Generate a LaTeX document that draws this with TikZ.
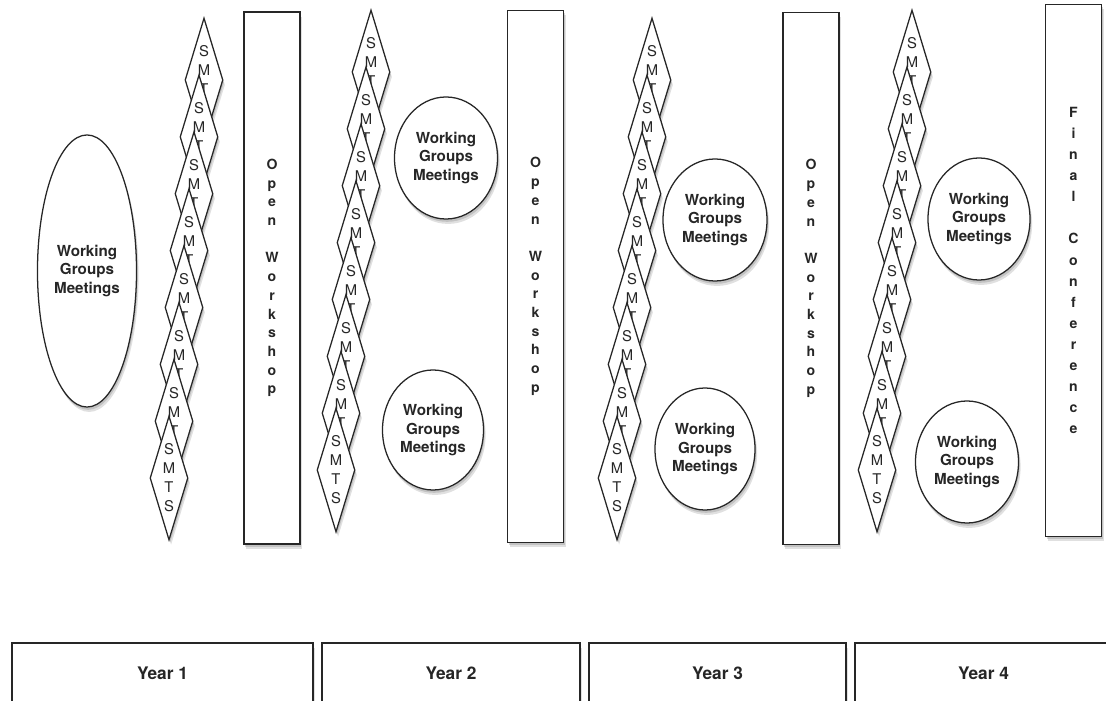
\documentclass[tikz,border=0pt]{standalone}
\usepackage{fontspec}
\setmainfont{TeX Gyre Heros}
\usepackage{tikz}
\usetikzlibrary{shapes.geometric,shadows}

\tikzset{
  box/.style={draw=black!85, line width=0.9pt, fill=white, text=black!85,
    general shadow={shadow xshift=1.5pt, shadow yshift=-3.5pt, opacity=0.12, fill=black},
    drop shadow={shadow xshift=0.8pt, shadow yshift=-2pt, opacity=0.25, fill=black!60}},
  smts/.style={box, diamond, aspect=0.306, inner sep=0pt, minimum width=0.95cm, minimum height=3.1cm,
    align=center, font=\fontsize{10.5}{13.5}\selectfont},
  wgm/.style={box, ellipse, inner sep=0pt, align=center,
    font=\fontsize{10.8}{13.5}\selectfont\bfseries},
  event/.style={box, rectangle, inner sep=0pt, minimum width=1.4cm, minimum height=13.3cm,
    align=center, font=\fontsize{10}{13.3}\selectfont\bfseries},
  year/.style={box, rectangle, minimum height=1.5cm,
    font=\fontsize{12.3}{14}\selectfont\bfseries},
}

\begin{document}
\begin{tikzpicture}[x=0.025cm, y=-0.025cm]
    \useasboundingbox (0,0) rectangle (1106,701);
    \clip (0,0) rectangle (1106,701);

    % Steering committee meetings (one stack per year)
    \foreach \s/\x/\y in {A/204/80, B/371/72, C/652/80, D/912/72}
      \foreach \i in {0,...,7}
        \node[smts] (smts\s-\i) at ({\x-5*\i},{\y+56.86*\i}) {S\\M\\T\\S};

    % Open workshops and final conference
    \node[event] (owA) at (272,278) {O\\p\\e\\n\\\mbox{}\\W\\o\\r\\k\\s\\h\\o\\p};
    \node[event] (owB) at (535.5,276.5) {O\\p\\e\\n\\\mbox{}\\W\\o\\r\\k\\s\\h\\o\\p};
    \node[event] (owC) at (811,278.5) {O\\p\\e\\n\\\mbox{}\\W\\o\\r\\k\\s\\h\\o\\p};
    \node[event, font=\fontsize{10}{15}\selectfont\bfseries] (final) at (1073.5,270.5)
      {F\\i\\n\\a\\l\\\mbox{}\\C\\o\\n\\f\\e\\r\\e\\n\\c\\e};

    % Working groups meetings
    \node[wgm, minimum width=2.475cm, minimum height=6.8cm] (wgA) at (87,271) {Working\\Groups\\Meetings};
    \node[wgm, minimum width=2.575cm, minimum height=3.05cm] (wgB) at (446,158) {Working\\Groups\\Meetings};
    \node[wgm, minimum width=2.525cm, minimum height=3cm] (wgC) at (433,430) {Working\\Groups\\Meetings};
    \node[wgm, minimum width=2.6cm, minimum height=3.05cm] (wgD) at (715,220) {Working\\Groups\\Meetings};
    \node[wgm, minimum width=2.5cm, minimum height=3.05cm] (wgE) at (705,449) {Working\\Groups\\Meetings};
    \node[wgm, minimum width=2.55cm, minimum height=3.05cm] (wgF) at (979,219) {Working\\Groups\\Meetings};
    \node[wgm, minimum width=2.575cm, minimum height=3.05cm] (wgG) at (967,462) {Working\\Groups\\Meetings};

    % Time line
    \node[year, minimum width=7.525cm] (yearA) at (162.5,673) {Year 1};
    \node[year, minimum width=6.45cm] (yearB) at (451,673) {Year 2};
    \node[year, minimum width=6.425cm] (yearC) at (717.5,673) {Year 3};
    \node[year, minimum width=6.425cm] (yearD) at (983.5,673) {Year 4};
\end{tikzpicture}
\end{document}
